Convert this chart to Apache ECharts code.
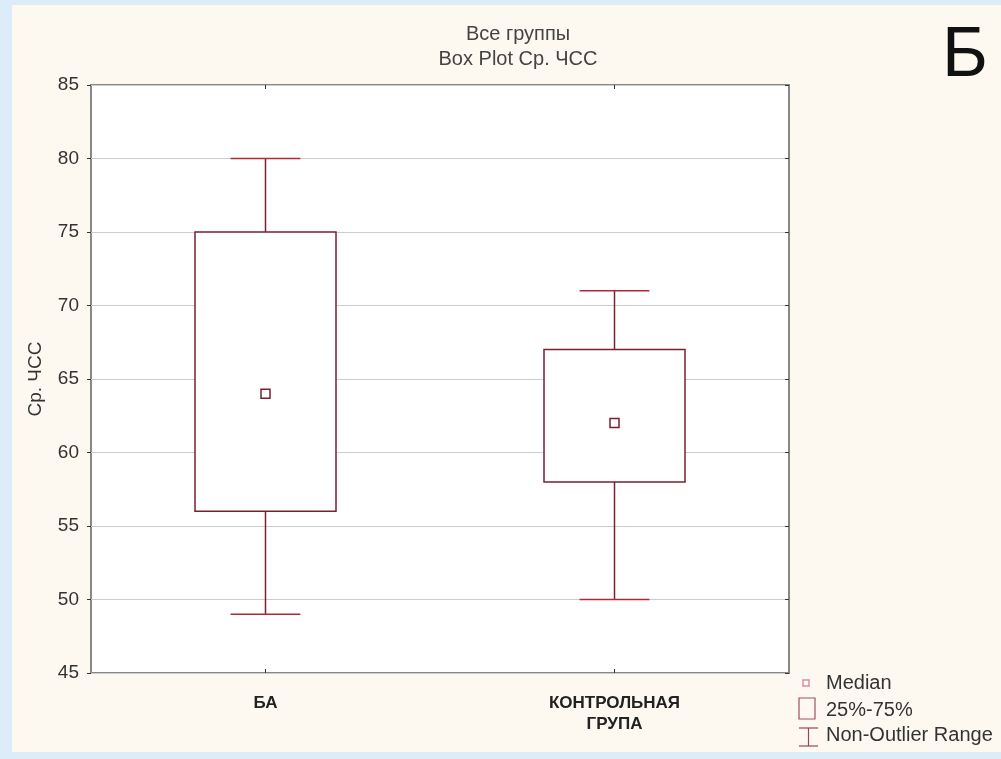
<!DOCTYPE html>
<html>
<head>
<meta charset="utf-8">
<script src="https://cdn.jsdelivr.net/npm/echarts@6/dist/echarts.min.js"></script>
<style>
html,body{margin:0;padding:0;background:#dcecf8;width:1001px;height:759px;overflow:hidden;}
#panel{position:absolute;left:12px;top:5px;width:989px;height:747px;background:#fdf9f1;}
#chart{position:absolute;left:0;top:0;width:1001px;height:759px;}
</style>
</head>
<body>
<div id="panel"></div>
<div id="chart"></div>
<script>
const categories = ['БА', 'КОНТРОЛЬНАЯ\nГРУПА'];
const whiskerLow = [49, 50];
const q1 = [56, 58];
const median = [64, 62];
const q3 = [75, 67];
const whiskerHigh = [80, 71];
const yTicks = [45, 50, 55, 60, 65, 70, 75, 80, 85];

const boxColor = '#7a2030';
const FONT = 'Liberation Sans, Arial, sans-serif';

const rows = categories.map((c, i) => [i, whiskerLow[i], q1[i], median[i], q3[i], whiskerHigh[i]]);

const chart = echarts.init(document.getElementById('chart'), null, {renderer: 'canvas'});

function boxRender(params, api) {
  const i = api.value(0);
  const band = api.size([1, 0])[0];
  const half = band * 0.202;
  const pQ1 = api.coord([i, api.value(2)]);
  const pQ3 = api.coord([i, api.value(4)]);
  return {
    type: 'rect',
    shape: {x: pQ1[0] - half, y: pQ3[1], width: half * 2, height: pQ1[1] - pQ3[1]},
    style: {fill: '#ffffff', stroke: boxColor, lineWidth: 1.5}
  };
}

function whiskerRender(params, api) {
  const i = api.value(0);
  const band = api.size([1, 0])[0];
  const capHalf = band * 0.1;
  const pLow = api.coord([i, api.value(1)]);
  const pQ1 = api.coord([i, api.value(2)]);
  const pQ3 = api.coord([i, api.value(4)]);
  const pHigh = api.coord([i, api.value(5)]);
  const st = {stroke: boxColor, lineWidth: 1.5};
  return {
    type: 'group',
    children: [
      {type: 'line', shape: {x1: pQ3[0], y1: pQ3[1], x2: pHigh[0], y2: pHigh[1]}, style: st},
      {type: 'line', shape: {x1: pQ1[0], y1: pQ1[1], x2: pLow[0], y2: pLow[1]}, style: st},
      {type: 'line', shape: {x1: pHigh[0] - capHalf, y1: pHigh[1], x2: pHigh[0] + capHalf, y2: pHigh[1]}, style: {stroke: '#b02838', lineWidth: 1.5}},
      {type: 'line', shape: {x1: pLow[0] - capHalf, y1: pLow[1], x2: pLow[0] + capHalf, y2: pLow[1]}, style: {stroke: '#b02838', lineWidth: 1.5}}
    ]
  };
}

const option = {
  animation: false,
  textStyle: {fontFamily: FONT},
  title: {
    text: 'Все группы\nBox Plot Ср. ЧСС',
    left: 513,
    textAlign: 'center',
    top: 17,
    textStyle: {fontSize: 20, fontWeight: 'normal', color: '#444', lineHeight: 25, fontFamily: FONT}
  },
  grid: {
    left: 91, right: 212, top: 85, bottom: 86,
    show: true, backgroundColor: '#ffffff', borderColor: '#888888', borderWidth: 2
  },
  xAxis: [{
    type: 'category',
    data: categories,
    axisLine: {show: false},
    axisTick: {show: true, inside: true, length: 4, alignWithLabel: true, interval: 0, lineStyle: {color: '#333'}},
    axisLabel: {margin: 20, fontSize: 17, fontWeight: 'bold', color: '#222', lineHeight: 21, fontFamily: FONT, interval: 0},
    splitLine: {show: false}
  }, {
    type: 'category',
    position: 'top',
    data: categories,
    axisLine: {show: false},
    axisTick: {show: true, inside: true, length: 4, alignWithLabel: true, interval: 0, lineStyle: {color: '#333'}},
    axisLabel: {show: false}
  }],
  yAxis: [{
    type: 'value',
    min: yTicks[0], max: yTicks[yTicks.length - 1], interval: 5,
    name: 'Ср. ЧСС',
    nameLocation: 'middle',
    nameGap: 46,
    nameRotate: 90,
    nameTextStyle: {fontSize: 19, color: '#333', fontFamily: FONT},
    axisLine: {show: false},
    axisTick: {show: true, length: 4, lineStyle: {color: '#333'}},
    axisLabel: {fontSize: 19, color: '#333', margin: 12, fontFamily: FONT},
    splitLine: {show: true, lineStyle: {color: '#cccccc', width: 1}}
  }, {
    type: 'value',
    position: 'right',
    min: yTicks[0], max: yTicks[yTicks.length - 1], interval: 5,
    axisLine: {show: false},
    axisTick: {show: true, inside: true, length: 4, lineStyle: {color: '#333'}},
    axisLabel: {show: false},
    splitLine: {show: false}
  }],
  series: [
    {
      name: 'Non-Outlier Range',
      type: 'custom',
      renderItem: whiskerRender,
      encode: {x: 0, y: [1, 2, 3, 4, 5]},
      data: rows,
      z: 2
    },
    {
      name: '25%-75%',
      type: 'custom',
      renderItem: boxRender,
      encode: {x: 0, y: [1, 2, 3, 4, 5]},
      data: rows,
      z: 3
    },
    {
      name: 'Median',
      type: 'scatter',
      symbol: 'rect',
      symbolSize: 9,
      itemStyle: {color: '#ffffff', borderColor: boxColor, borderWidth: 1.5, opacity: 1},
      data: categories.map((c, i) => [i, median[i]]),
      z: 4
    }
  ],
  graphic: [
    {type: 'text', left: 942, top: 22, style: {text: 'Б', fontSize: 70, fill: '#111', fontFamily: FONT}},
    {type: 'rect', shape: {x: 803, y: 680, width: 6, height: 6}, style: {fill: '#fff', stroke: '#e08a9a', lineWidth: 1.5}},
    {type: 'text', x: 826, y: 683, style: {text: 'Median', fontSize: 20, fill: '#333', fontFamily: FONT, textVerticalAlign: 'middle'}},
    {type: 'rect', shape: {x: 799, y: 698, width: 16, height: 21}, style: {fill: 'none', stroke: '#a05060', lineWidth: 1.2}},
    {type: 'text', x: 826, y: 710, style: {text: '25%-75%', fontSize: 20, fill: '#333', fontFamily: FONT, textVerticalAlign: 'middle'}},
    {type: 'line', shape: {x1: 799, y1: 728, x2: 818, y2: 728}, style: {stroke: '#a04050', lineWidth: 1.2}},
    {type: 'line', shape: {x1: 808.5, y1: 728, x2: 808.5, y2: 746}, style: {stroke: '#a04050', lineWidth: 1.2}},
    {type: 'line', shape: {x1: 799, y1: 746, x2: 818, y2: 746}, style: {stroke: '#a04050', lineWidth: 1.2}},
    {type: 'text', x: 826, y: 735, style: {text: 'Non-Outlier Range', fontSize: 20, fill: '#333', fontFamily: FONT, textVerticalAlign: 'middle'}}
  ]
};

chart.setOption(option);
</script>
</body>
</html>
